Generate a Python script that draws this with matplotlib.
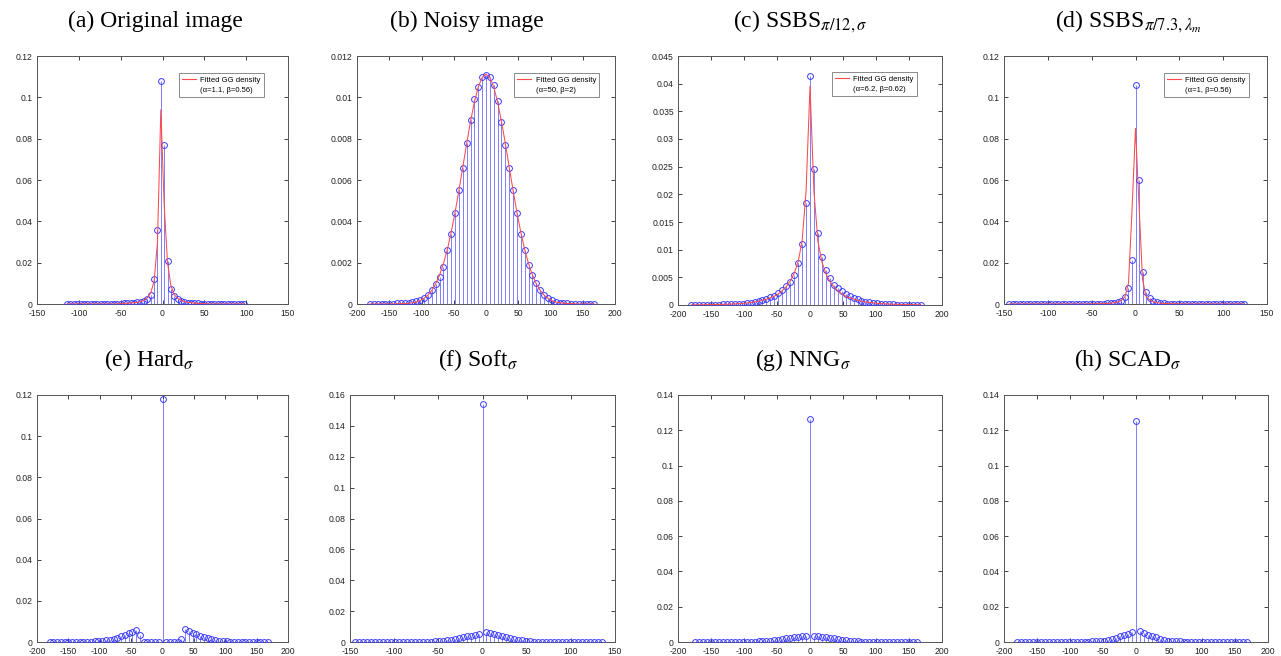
import numpy as np
import matplotlib
matplotlib.use("Agg")
import matplotlib.pyplot as plt
from matplotlib.lines import Line2D
from matplotlib.ticker import FormatStrFormatter, MultipleLocator

plt.rcParams['mathtext.fontset'] = 'stix'

# ---------------- data ----------------
titles = [r'(a) Original image', r'(b) Noisy image',
          r'(c) SSBS$_{\pi/12,\sigma}$', r'(d) SSBS$_{\pi/7.3,\lambda_m}$',
          r'(e) Hard$_{\sigma}$', r'(f) Soft$_{\sigma}$',
          r'(g) NNG$_{\sigma}$', r'(h) SCAD$_{\sigma}$']
legend_params = ['(α=1.1, β=0.56)', '(α=50, β=2)', '(α=6.2, β=0.62)', '(α=1, β=0.56)']

# bin centres (regular histogram grids)
x_a = np.arange(-114, 99, 4)          # 54 bins
x_b = np.arange(-180, 169, 6)         # 59 bins
x_c = np.arange(-180, 169, 6)         # 59 bins
x_d = np.arange(-144, 125, 4)         # 68 bins
x_e = np.arange(-180, 169, 6)         # 59 bins
x_f = np.arange(-144, 135.1, 4.5)     # 63 bins
x_g = np.arange(-174, 163, 6)         # 57 bins
x_h = np.arange(-180, 169, 6)         # 59 bins

# (a) original image histogram and fitted GG density
y_a = [0.0] * 16 + [0.0002, 0.0003, 0.0004, 0.0005, 0.0006, 0.0008, 0.0010, 0.0014,
                    0.0022, 0.0045, 0.012, 0.036, 0.108, 0.077, 0.021, 0.0075, 0.0038,
                    0.0022, 0.0014, 0.0010, 0.0007, 0.0005, 0.0004, 0.0003, 0.0002,
                    0.0002] + [0.0] * 12
r_a = [0.0] * 16 + [0.0002, 0.0003, 0.0004, 0.0005, 0.0006, 0.0008, 0.0012, 0.0018,
                    0.0030, 0.0055, 0.011, 0.030, 0.094, 0.048, 0.020, 0.009, 0.0045,
                    0.0028, 0.0018, 0.0012, 0.0008, 0.0006, 0.0004, 0.0003, 0.0002,
                    0.0002] + [0.0] * 12

# (b) noisy image
y_b = [0, 0, 0, 0, 0.00001, 0.00002, 0.00002, 0.00003, 0.00004, 0.00005, 0.00006,
       0.00009, 0.00013, 0.0002, 0.0003, 0.00045, 0.0007, 0.00095, 0.0013, 0.0018,
       0.0026, 0.0034, 0.0044, 0.0055, 0.0066, 0.0078, 0.0089, 0.0099, 0.0105, 0.0110,
       0.0111,
       0.0110, 0.0106, 0.0098, 0.0088, 0.0077, 0.0066, 0.0055, 0.0044, 0.0034, 0.0026,
       0.0019, 0.0014, 0.0010, 0.0007, 0.00045, 0.0003, 0.00018, 0.00011, 0.00007,
       0.00004, 0.00003, 0.00002, 0.00001, 0, 0, 0, 0, 0]
r_b = [0, 0, 0, 0, 0, 0, 0, 0.00001, 0.00002, 0.00002, 0.00004, 0.00006, 0.00010,
       0.00017, 0.00028, 0.00043, 0.00066, 0.00098, 0.00140, 0.00195, 0.00263, 0.00346,
       0.00442, 0.00549, 0.00662, 0.00776, 0.00883, 0.00977, 0.01050, 0.01096,
       0.01112,
       0.01096, 0.01050, 0.00977, 0.00883, 0.00776, 0.00662, 0.00549, 0.00442, 0.00346,
       0.00263, 0.00195, 0.00140, 0.00098, 0.00066, 0.00043, 0.00028, 0.00017, 0.00010,
       0.00006, 0.00004, 0.00002, 0.00002, 0.00001, 0, 0, 0, 0, 0]

# (c) SSBS pi/12, sigma
y_c = [0.00003, 0.00003, 0.00004, 0.00004, 0.00005, 0.00006, 0.00007, 0.00008, 0.0001,
       0.00012, 0.00014, 0.00017, 0.0002, 0.00025, 0.0003, 0.0004, 0.0005, 0.0007,
       0.0009, 0.0011, 0.0014, 0.0017, 0.0021, 0.0027, 0.0034, 0.0042, 0.0055, 0.0076,
       0.0111, 0.0184,
       0.0413,
       0.0245, 0.0130, 0.0087, 0.0063, 0.0048, 0.0037, 0.0030, 0.0025, 0.0020, 0.0016,
       0.0013, 0.0010, 0.0008, 0.0006, 0.0005, 0.0004, 0.0003, 0.00022, 0.00017,
       0.00013, 0.0001, 0.00008, 0.00006, 0.00005, 0.00004, 0.00003, 0.00003, 0.00002]
r_c = [0.00003, 0.00003, 0.00004, 0.00005, 0.00006, 0.00007, 0.00008, 0.0001, 0.00012,
       0.00014, 0.00017, 0.0002, 0.00024, 0.0003, 0.00036, 0.00045, 0.00055, 0.0007,
       0.00085, 0.00105, 0.0013, 0.0016, 0.0020, 0.0026, 0.0033, 0.0043, 0.0057, 0.0078,
       0.0115, 0.0205,
       0.0395,
       0.0205, 0.0115, 0.0078, 0.0057, 0.0043, 0.0033, 0.0026, 0.0020, 0.0016, 0.0013,
       0.00105, 0.00085, 0.0007, 0.00055, 0.00045, 0.00036, 0.0003, 0.00024, 0.0002,
       0.00017, 0.00014, 0.00012, 0.0001, 0.00008, 0.00007, 0.00006, 0.00005, 0.00004]

# (d) SSBS pi/7.3, lambda_m
y_d = [0.0] * 24 + [0.0001, 0.0001, 0.0002, 0.0002, 0.0003, 0.0004, 0.0006, 0.0009,
                    0.0015, 0.0033, 0.0078, 0.0215,
                    0.106,
                    0.060, 0.0155, 0.0060, 0.0028, 0.0014, 0.0008, 0.0005, 0.0003,
                    0.0002, 0.0002, 0.0001, 0.0001] + [0.0] * 19
r_d = [0.0] * 24 + [0.0001, 0.00012, 0.00015, 0.0002, 0.0003, 0.0004, 0.0006, 0.0010,
                    0.0018, 0.0035, 0.010, 0.045,
                    0.085,
                    0.048, 0.012, 0.0038, 0.0020, 0.0011, 0.0007, 0.0004, 0.0003,
                    0.0002, 0.00015, 0.00012, 0.0001] + [0.0] * 19

# (e) hard thresholding
y_e = [0.0] * 10 + [0.0001, 0.0002, 0.0003, 0.0004, 0.0006, 0.0008, 0.0012, 0.0016,
                    0.0021, 0.0028, 0.0035, 0.0043, 0.0050, 0.0058, 0.0033] \
      + [0.0] * 5 + [0.118] + [0.0] * 4 \
      + [0.0013, 0.0065, 0.0055, 0.0045, 0.0037, 0.0030, 0.0025, 0.0018, 0.0013,
         0.0010, 0.0007, 0.0005, 0.0003, 0.0002, 0.0001] + [0.0] * 9

# (f) soft thresholding
y_f = [0.0] * 18 + [0.0002, 0.0003, 0.0004, 0.0006, 0.0009, 0.0012, 0.0015, 0.0020,
                    0.0025, 0.0030, 0.0036, 0.0042, 0.0048, 0.0055,
                    0.154,
                    0.0063, 0.0058, 0.0050, 0.0043, 0.0036, 0.0030, 0.0024, 0.0019,
                    0.0014, 0.0010, 0.0007, 0.0005, 0.0003, 0.0002] + [0.0] * 16

# (g) non-negative garrote
y_g = [0.0] * 14 + [0.0001, 0.0002, 0.0003, 0.0004, 0.0005, 0.0007, 0.0010, 0.0013,
                    0.0016, 0.0020, 0.0024, 0.0028, 0.0031, 0.0035, 0.0035,
                    0.1265,
                    0.0034, 0.0034, 0.0031, 0.0028, 0.0024, 0.0020, 0.0016, 0.0013,
                    0.0010, 0.0007, 0.0005, 0.0003, 0.0002, 0.0001] + [0.0] * 13

# (h) SCAD
y_h = [0.0] * 19 + [0.0003, 0.0004, 0.0006, 0.0008, 0.0011, 0.0017, 0.0025, 0.0033,
                    0.0040, 0.0047, 0.0058,
                    0.125,
                    0.0062, 0.0052, 0.0042, 0.0034, 0.0026, 0.0017, 0.0011, 0.0008,
                    0.0006, 0.0004, 0.0003, 0.0002] + [0.0] * 16

panels = [
    (x_a, y_a, r_a, (-150, 150), 0.12, 0.02),
    (x_b, y_b, r_b, (-200, 200), 0.012, 0.002),
    (x_c, y_c, r_c, (-200, 200), 0.045, 0.005),
    (x_d, y_d, r_d, (-150, 150), 0.12, 0.02),
    (x_e, y_e, None, (-200, 200), 0.12, 0.02),
    (x_f, y_f, None, (-150, 150), 0.16, 0.02),
    (x_g, y_g, None, (-200, 200), 0.14, 0.02),
    (x_h, y_h, None, (-200, 200), 0.14, 0.02),
]

# ---------------- layout ----------------
W, H = 1281, 656
fig = plt.figure(figsize=(W / 100, H / 100), dpi=100)

# axes boxes in pixels: (left, right, top, bottom)
boxes = [(37, 288, 56, 304), (357, 615, 56, 304), (678, 942, 56, 305), (1004, 1267, 56, 304),
         (37, 288, 395, 642), (350, 615, 395, 642), (678, 942, 395, 642), (1004, 1268, 395, 642)]
title_pos = [(155, 27), (467, 27), (800, 27), (1128, 27),
             (149, 366), (478, 366), (803, 366), (1128, 366)]
legend_anchor = [(0.566, 0.931), (0.609, 0.931), (0.583, 0.935), (0.608, 0.931)]

blue_line = '#7f7fff'
blue_mark = '#3a3aff'
red = '#ff4a4a'
frame = '#555555'

for i, (x, y, r, xl, ytop, ystep) in enumerate(panels):
    l, rr, t, b = boxes[i]
    ax = fig.add_axes([l / W, 1 - b / H, (rr - l) / W, (b - t) / H])
    ax.vlines(x, 0, y, color=blue_line, lw=0.7, zorder=2)
    ax.plot(x, y, 'o', mfc='none', mec=blue_mark, ms=4.2, mew=0.7, zorder=3)
    if r is not None:
        ax.plot(x, r, '-', color=red, lw=0.75, zorder=4)
    ax.set_xlim(*xl)
    ax.set_ylim(0, ytop)
    ax.xaxis.set_major_locator(MultipleLocator(50))
    ax.yaxis.set_major_locator(MultipleLocator(ystep))
    ax.xaxis.set_major_formatter(FormatStrFormatter('%g'))
    ax.yaxis.set_major_formatter(FormatStrFormatter('%g'))
    ax.tick_params(direction='in', top=True, right=True, length=3, width=0.6,
                   colors='#222222', labelsize=6.2)
    ax.tick_params(axis='x', pad=3.5)
    ax.tick_params(axis='y', pad=3)
    for lab in ax.get_xticklabels() + ax.get_yticklabels():
        lab.set_fontfamily('Liberation Sans')
    for sp in ax.spines.values():
        sp.set_linewidth(0.7)
        sp.set_color(frame)
    if r is not None:
        h1 = Line2D([], [], color=red, lw=0.8)
        h2 = Line2D([], [], color='none', lw=0)
        leg = ax.legend([h1, h2], ['Fitted GG density', legend_params[i]],
                        loc='upper left', bbox_to_anchor=legend_anchor[i],
                        frameon=True, fancybox=False, edgecolor=frame,
                        borderpad=0.4, labelspacing=0.35, handlelength=1.8,
                        handletextpad=0.6, borderaxespad=0,
                        prop={'family': 'Liberation Sans', 'size': 5.5})
        leg.get_frame().set_linewidth(0.6)

    tx, ty = title_pos[i]
    fig.text(tx / W, 1 - ty / H, titles[i], ha='center', va='baseline',
             fontsize=17, fontfamily='Liberation Serif')

fig.savefig('out.png', dpi=100)
